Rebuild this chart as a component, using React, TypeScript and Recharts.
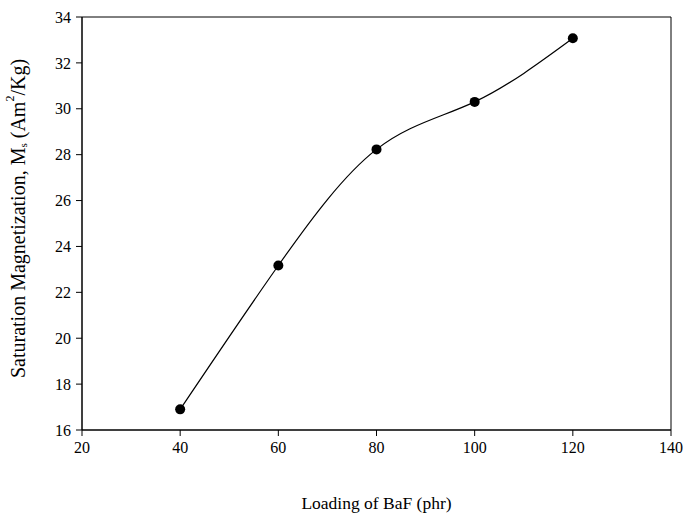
import React from 'react';
import { LineChart, Line, XAxis, YAxis, ReferenceArea } from 'recharts';

const loading = [40, 60, 80, 100, 120];
const magnetization = [16.9, 23.17, 28.23, 30.3, 33.07];
const xTicks = [20, 40, 60, 80, 100, 120, 140];
const yTicks = [16, 18, 20, 22, 24, 26, 28, 30, 32, 34];

const data = loading.map((x, i) => ({ x, ms: magnetization[i] }));

const font = '"Liberation Serif", "Times New Roman", serif';

// rotated y title with subscript s and superscript 2
const YTitle = (props: any) => {
  const vb = props.viewBox || { x: 0, y: 0, width: 0, height: 0 };
  const cx = 18;
  const cy = vb.y + vb.height / 2 - 5;
  return (
    <text
      x={cx}
      y={cy}
      transform={`rotate(-90, ${cx}, ${cy})`}
      textAnchor="middle"
      dominantBaseline="central"
      fontFamily={font}
      fontSize={20}
      fill="#000"
    >
      Saturation Magnetization, M
      <tspan fontSize={11} dy={5}>s</tspan>
      <tspan dy={-5}> (Am</tspan>
      <tspan fontSize={12} dy={-8}>2</tspan>
      <tspan dy={8}>/Kg)</tspan>
    </text>
  );
};

const App: React.FC = () => {
  const tickStyle = { fontFamily: font, fontSize: 16, fill: '#000' };
  return (
    <div style={{ position: 'absolute', left: 0, top: 0, background: '#fff' }}>
      <LineChart
        width={683}
        height={518}
        data={data}
        margin={{ top: 17, right: 12, bottom: 48, left: 22 }}
      >
        <XAxis
          dataKey="x"
          type="number"
          domain={[20, 140]}
          ticks={xTicks}
          tickSize={6}
          tickMargin={6}
          stroke="#000"
          tick={tickStyle}
          height={40}
          label={{
            value: 'Loading of BaF (phr)',
            position: 'insideBottom',
            offset: -39,
            style: { fontFamily: font, fontSize: 17.5, fill: '#000' },
          }}
        />
        <YAxis
          type="number"
          domain={[16, 34]}
          ticks={yTicks}
          tickSize={6}
          tickMargin={5}
          stroke="#000"
          tick={tickStyle}
          width={60}
          label={<YTitle />}
        />
        <ReferenceArea
          x1={20}
          x2={140}
          y1={16}
          y2={34}
          fill="none"
          stroke="#000"
          strokeWidth={1}
          ifOverflow="visible"
        />
        <Line
          type="natural"
          dataKey="ms"
          stroke="#000"
          strokeWidth={1.2}
          dot={{ r: 5, fill: '#000', stroke: '#000', strokeWidth: 0 }}
          isAnimationActive={false}
        />
      </LineChart>
    </div>
  );
};

export default App;
